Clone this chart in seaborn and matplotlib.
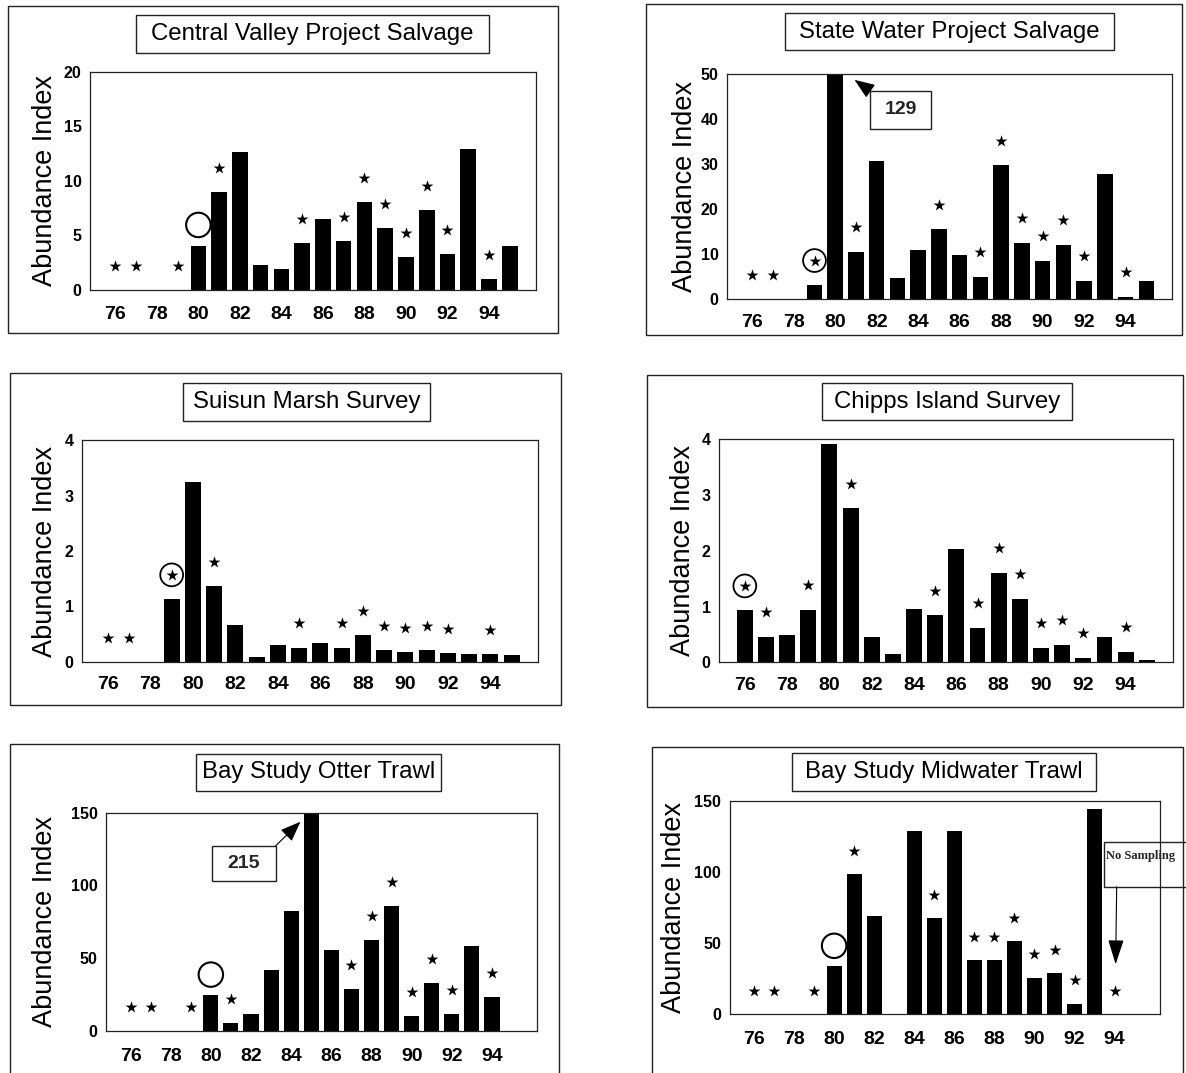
import numpy as np
import matplotlib
matplotlib.use("Agg")
import matplotlib.pyplot as plt
from matplotlib.patches import Rectangle
import seaborn as sns

# two-digit years shown on every panel
years = list(range(76, 96))
year_labels = [str(y) if (y % 2 == 0 and y <= 94) else "" for y in years]

nan = np.nan

cvp_vals = [0, 0, 0, 0, 4.06, 8.95, 12.6, 2.3, 1.9, 4.35, 6.5, 4.45, 8.05, 5.7, 3.0, 7.3, 3.3, 12.95, 1.05, 4.05]
cvp_stars = [76, 77, 79, 81, 85, 87, 88, 89, 90, 91, 92, 94]
cvp_circles = [80]
cvp_circled_stars = []

swp_vals = [0, 0, 0, 3.1, 129, 10.6, 30.8, 4.7, 11.0, 15.5, 9.9, 4.9, 29.7, 12.6, 8.6, 12.1, 4.1, 27.7, 0.5, 4.1]
swp_stars = [76, 77, 81, 85, 87, 88, 89, 90, 91, 92, 94]
swp_circles = []
swp_circled_stars = [79]

suisun_vals = [0, 0, 0, 1.13, 3.25, 1.37, 0.66, 0.09, 0.30, 0.26, 0.34, 0.26, 0.48, 0.21, 0.18, 0.21, 0.155, 0.14, 0.14, 0.12]
suisun_stars = [76, 77, 81, 85, 87, 88, 89, 90, 91, 92, 94]
suisun_circles = []
suisun_circled_stars = [79]

chipps_vals = [0.93, 0.46, 0.49, 0.94, 3.91, 2.76, 0.45, 0.15, 0.96, 0.84, 2.03, 0.62, 1.61, 1.14, 0.26, 0.31, 0.08, 0.46, 0.19, 0.04]
chipps_stars = [77, 79, 81, 85, 87, 88, 89, 90, 91, 92, 94]
chipps_circles = []
chipps_circled_stars = [76]

otter_vals = [0, 0, 0, 0, 24.5, 5.7, 11.6, 42, 82.5, 215, 56, 29, 62.7, 86, 10.2, 33.2, 12, 58.4, 23.4, nan]
otter_stars = [76, 77, 79, 81, 87, 88, 89, 90, 91, 92, 94]
otter_circles = [80]
otter_circled_stars = []

midwater_vals = [0, 0, 0, 0, 33.7, 98.2, 69.2, nan, 128.6, 67.3, 128.6, 37.7, 37.7, 51.3, 25.4, 28.7, 7.3, 144.3, nan, nan]
midwater_stars = [76, 77, 79, 81, 85, 87, 88, 89, 90, 91, 92, 94]
midwater_circles = [80]
midwater_circled_stars = []

titles = ["Central Valley Project Salvage", "State Water Project Salvage",
          "Suisun Marsh Survey", "Chipps Island Survey",
          "Bay Study Otter Trawl", "Bay Study Midwater Trawl"]
y_maxes = [20, 50, 4, 4, 150, 150]
y_steps = [5, 10, 1, 1, 50, 50]

sns.set_theme(style="white")
plt.rcParams["font.family"] = ["Liberation Sans", "DejaVu Sans"]

W, H = 1186, 1073
fig = plt.figure(figsize=(W / 100, H / 100), dpi=100)


def px_rect(l, t, r, b, lw=1.0):
    fig.add_artist(Rectangle((l / W, 1 - b / H), (r - l) / W, (b - t) / H,
                             transform=fig.transFigure, fill=False,
                             edgecolor="#222222", linewidth=lw))


# layout in pixels: axes box, outer frame, title box, ylabel baseline x, xtick pad (pt)
layout = [
    dict(ax=(90, 71.7, 535.5, 290), frame=(8, 6, 558, 333), tbox=(136, 15, 489, 52.7), ylab=52, pad=11.5),
    dict(ax=(727, 74, 1172, 299.3), frame=(646, 4, 1182, 335), tbox=(785, 13.3, 1114, 50), ylab=692, pad=10.5),
    dict(ax=(82, 440, 538, 662), frame=(10, 373, 561, 705), tbox=(183, 383.3, 430, 420.7), ylab=52, pad=10),
    dict(ax=(719, 439.3, 1173, 662.3), frame=(647, 375, 1183, 707), tbox=(822, 383.3, 1072, 420), ylab=690, pad=10.5),
    dict(ax=(106, 812.7, 537, 1031), frame=(10, 744, 559, 1080), tbox=(196, 754, 441, 790.7), ylab=52, pad=12),
    dict(ax=(729.5, 800.7, 1159.5, 1014), frame=(652, 747, 1183, 1080), tbox=(792, 753.3, 1096, 790.7), ylab=681, pad=12),
]

panels = [
    (cvp_vals, cvp_stars, cvp_circles, cvp_circled_stars),
    (swp_vals, swp_stars, swp_circles, swp_circled_stars),
    (suisun_vals, suisun_stars, suisun_circles, suisun_circled_stars),
    (chipps_vals, chipps_stars, chipps_circles, chipps_circled_stars),
    (otter_vals, otter_stars, otter_circles, otter_circled_stars),
    (midwater_vals, midwater_stars, midwater_circles, midwater_circled_stars),
]

axes = []
for i, (vals, stars, circles, cstars) in enumerate(panels):
    lay = layout[i]
    l, t, r, b = lay["ax"]
    ax = fig.add_axes([l / W, 1 - b / H, (r - l) / W, (b - t) / H])
    axes.append(ax)
    ymax = y_maxes[i]
    sns.barplot(x=[str(y) for y in years], y=vals, order=[str(y) for y in years],
                color="black", saturation=1, width=0.75, linewidth=0,
                errorbar=None, ax=ax)
    v = np.nan_to_num(np.array(vals, dtype=float))
    star_idx = [y - 76 for y in stars + cstars]
    ax.scatter(star_idx, v[star_idx] + 0.11 * ymax, marker="*", s=80,
               color="black", linewidths=0, zorder=3, clip_on=False)
    c_idx = [y - 76 for y in cstars]
    ax.scatter(c_idx, v[c_idx] + 0.11 * ymax, marker="o", s=270,
               facecolors="none", edgecolors="black", linewidths=1.3, zorder=3)
    o_idx = [y - 76 for y in circles]
    ax.scatter(o_idx, v[o_idx] + 0.095 * ymax, marker="o", s=310,
               facecolors="none", edgecolors="black", linewidths=1.5, zorder=3)

    ax.set_xlim(-1.22, 20.24)
    ax.set_ylim(0, ymax)
    ax.set_xticks(range(len(years)))
    ax.set_xticklabels(year_labels, fontsize=14, fontweight="bold")
    ticks = np.arange(0, ymax + 0.001, y_steps[i])
    ax.set_yticks(ticks)
    ax.set_yticklabels([f"{int(y)}" for y in ticks], fontsize=11.5, fontweight="bold")
    ax.tick_params(axis="x", direction="in", length=3, width=0.8, pad=lay["pad"], colors="black")
    ax.tick_params(axis="y", length=0, pad=6, colors="black")
    ax.set_xlabel("")
    ax.set_ylabel("Abundance Index", fontsize=19.5, color="black")
    ax.yaxis.label.set_va("baseline")
    ax.yaxis.set_label_coords((lay["ylab"] - l) / (r - l), 0.5)
    for sp in ax.spines.values():
        sp.set_visible(True)
        sp.set_color("#222222")
        sp.set_linewidth(0.9)

    # outer frame and title box
    px_rect(*lay["frame"])
    tl, tt, tr, tb = lay["tbox"]
    px_rect(tl, tt, tr, tb)
    fig.text((tl + tr) / 2 / W, 1 - (tt + tb) / 2 / H, titles[i], fontsize=17.3,
             ha="center", va="center", color="black")

# call-outs for the clipped bars and the unsampled year
arrow = dict(arrowstyle="-|>,head_length=0.9,head_width=0.35", color="black",
             lw=0.8, shrinkA=0, shrinkB=0, mutation_scale=14)

px_rect(870, 90.7, 931, 129)
fig.text(900.5 / W, 1 - 110 / H, "129", fontsize=14, fontweight="bold",
         ha="center", va="center")
axes[1].annotate("", xy=(4.93, 48.7), xytext=(870 / W, 1 - 90.7 / H),
                 textcoords="figure fraction", arrowprops=arrow)

px_rect(212, 846, 275.5, 880.7)
fig.text(243.75 / W, 1 - 863.3 / H, "215", fontsize=14, fontweight="bold",
         ha="center", va="center")
axes[4].annotate("", xy=(8.46, 143.8), xytext=(275.5 / W, 1 - 846 / H),
                 textcoords="figure fraction", arrowprops=arrow)

px_rect(1104, 841.7, 1195, 886.7)
fig.text(1106 / W, 1 - 856 / H, "No Sampling", fontsize=9, fontweight="bold",
         family=["Liberation Serif", "DejaVu Serif"], ha="left", va="center")
axes[5].annotate("", xy=(18.05, 35), xytext=(1116.7 / W, 1 - 886.7 / H),
                 textcoords="figure fraction",
                 arrowprops=dict(arrow, arrowstyle="-|>,head_length=1.1,head_width=0.35"))

fig.savefig("out.png", dpi=100, facecolor="white")
